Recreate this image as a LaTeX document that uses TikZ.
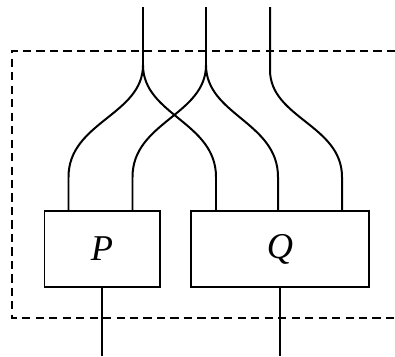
\documentclass[tikz,border=0pt]{standalone}
\usepackage{fontspec}
\setmainfont{Liberation Serif}
\usetikzlibrary{calc}

\begin{document}
\begin{tikzpicture}[
      x=0.03cm, y=-0.03cm, % 以像素为单位，y 轴向下
      wire/.style={line width=1.7pt},
      frame/.style={line width=1.4pt, dash pattern=on 7pt off 4.5pt},
      gate/.style={draw, line width=1.7pt, minimum height=2.28cm, font=\fontsize{31}{36}\selectfont\itshape},
    ]
  \useasboundingbox (0,0) rectangle (395,356);
  % 两个盒子
  \node[gate, minimum width=3.45cm] (P) at (102,249) {P};
  \node[gate, minimum width=5.34cm] (Q) at (280,249) {Q};
  % 盒子上的端口
  \coordinate (P1) at ($(P.north west)+(25,0)$);
  \coordinate (P2) at ($(P.north west)+(89,0)$);
  \coordinate (Q1) at ($(Q.north west)+(26,0)$);
  \coordinate (Q2) at ($(Q.north west)+(88,0)$);
  \coordinate (Q3) at ($(Q.north west)+(152,0)$);
  % 上下两端的自由端
  \coordinate (inA) at (143,7);
  \coordinate (inB) at (206,7);
  \coordinate (inC) at (270,7);
  \coordinate (bot) at (0,356);
  % 上面的导线（分叉、交叉）
  \draw[wire] (inA) -- ++(0,58) .. controls +(0,50) and +(0,-55) .. ($(P1)+(0,-33)$) -- (P1);
  \draw[wire] (inA) -- ++(0,58) .. controls +(0,50) and +(0,-55) .. ($(Q1)+(0,-33)$) -- (Q1);
  \draw[wire] (inB) -- ++(0,58) .. controls +(0,50) and +(0,-55) .. ($(P2)+(0,-33)$) -- (P2);
  \draw[wire] (inB) -- ++(0,58) .. controls +(0,50) and +(0,-55) .. ($(Q2)+(0,-33)$) -- (Q2);
  \draw[wire] (inC) -- ++(0,63) .. controls +(0,48) and +(0,-52) .. ($(Q3)+(0,-33)$) -- (Q3);
  % 下面的输出
  \draw[wire] (P.south) -- (P.south |- bot);
  \draw[wire] (Q.south) -- (Q.south |- bot);
  % 虚线框（右侧开口）
  \draw[frame] (395,51) -- (12,51) -- (12,318) -- (395,318);
\end{tikzpicture}
\end{document}
